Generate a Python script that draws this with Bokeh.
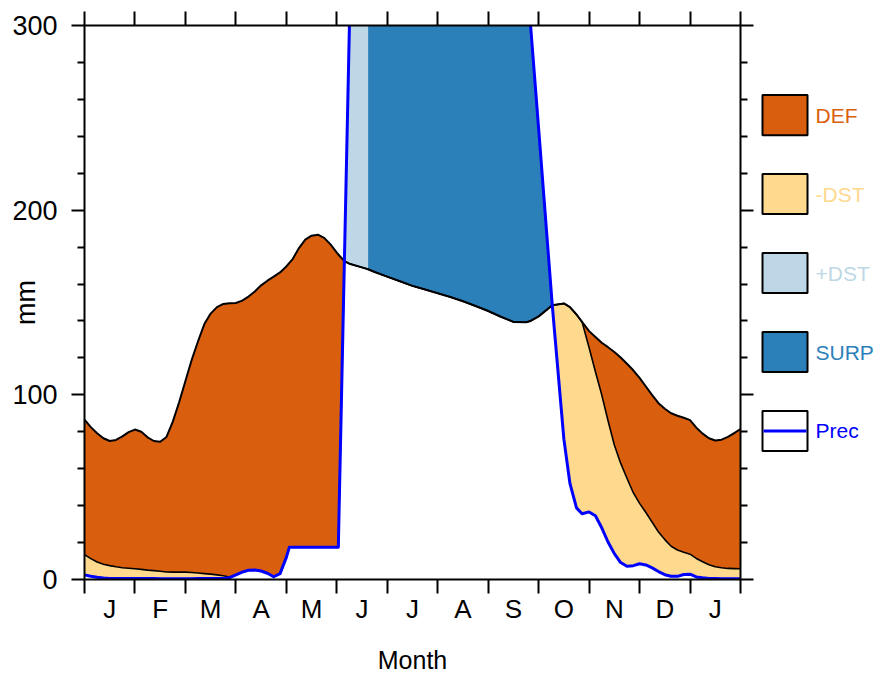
import numpy as np
from bokeh.plotting import figure
from bokeh.models import LinearAxis, FixedTicker, Range1d
from bokeh.layouts import row
from bokeh.embed import file_html
from bokeh.resources import INLINE
from bokeh.core.properties import value

# ---------------- data ----------------
month = [0.0, 0.125, 0.25, 0.375, 0.5, 0.625, 0.75, 0.875, 1.0, 1.125, 1.25, 1.375,
         1.5, 1.625, 1.75, 1.875, 2.0, 2.125, 2.25, 2.375, 2.5, 2.625, 2.75, 2.875, 3.0,
         3.125, 3.25, 3.375, 3.5, 3.625, 3.75, 3.875, 4.0, 4.06, 4.125, 4.25, 4.375,
         4.5, 4.625, 4.75, 4.875, 5.0, 5.03, 5.15, 5.25,
         5.5, 5.62, 5.75, 6.0, 6.25, 6.5, 6.75, 7.0, 7.25, 7.5, 7.75, 8.0, 8.25, 8.5,
         8.75, 8.84, 9.0,
         9.27, 9.5, 9.62, 9.75, 9.86,
         10.0, 10.125, 10.25, 10.375, 10.5, 10.625, 10.75, 10.875, 11.0, 11.125, 11.25,
         11.375, 11.5, 11.625, 11.75, 11.875, 12.0, 12.125, 12.25, 12.375, 12.5, 12.625,
         12.75, 12.875, 13.0]

# potential evapotranspiration (mm)
pet = [86.6, 82.5, 79.2, 76.5, 75.0, 75.6, 77.5, 79.8, 81.2, 80.0, 77.0, 75.0,
       74.6, 77.2, 85.5, 96.0, 107.5, 119.0, 129.0, 138.3, 144.0, 147.5, 149.2, 149.6, 149.7,
       151.0, 153.2, 156.0, 159.3, 161.8, 164.0, 166.3, 169.5, 171.5, 173.5, 179.5, 184.0,
       186.2, 186.7, 185.0, 181.5, 177.0, 176.0, 172.4, 171.0,
       169.0, 168.0, 166.5, 164.0, 161.5, 159.0, 157.0, 155.0, 153.0, 150.7, 148.1, 145.4, 142.3, 139.5,
       139.3, 140.0, 142.5,
       148.5, 149.5, 147.5, 143.5, 139.5,
       134.5, 131.3, 128.2, 125.8, 123.2, 120.2, 116.8, 113.3, 109.2, 104.5, 99.8,
       95.5, 92.5, 90.0, 88.7, 87.6, 86.3, 82.2, 79.0, 76.5, 75.3, 75.7,
       77.2, 79.3, 81.5]

# precipitation (mm); values above 300 run off the top of the chart
prec = [2.5, 1.8, 1.2, 0.8, 0.6, 0.5, 0.5, 0.5, 0.6, 0.6, 0.6, 0.5,
        0.4, 0.4, 0.4, 0.4, 0.4, 0.4, 0.5, 0.5, 0.5, 0.5, 0.5, 1.0, 2.5,
        4.0, 5.0, 5.1, 4.6, 3.4, 1.5, 3.2, 12.0, 17.5, 17.5, 17.5, 17.5,
        17.5, 17.5, 17.5, 17.5, 17.5, 17.5, 172.4, 300.0,
        620.0, 640.0, 650.0, 660.0, 660.0, 650.0, 640.0, 630.0, 610.0, 590.0, 560.0, 530.0, 480.0, 420.0,
        332.0, 300.0, 244.0,
        148.5, 76.0, 52.0, 38.8, 35.6,
        36.6, 34.5, 28.0, 20.3, 14.0, 9.2, 7.2, 7.5, 8.5, 7.9, 6.3,
        4.3, 2.6, 1.8, 1.7, 2.7, 2.9, 1.4, 0.9, 0.6, 0.5, 0.4,
        0.4, 0.4, 0.4]

# actual evapotranspiration (mm)
aet = [13.5, 11.3, 9.5, 8.3, 7.5, 6.9, 6.4, 6.1, 5.8, 5.5, 5.1, 4.8,
       4.5, 4.1, 4.0, 4.0, 4.0, 3.8, 3.5, 3.2, 2.9, 2.5, 2.0, 1.4, 2.5,
       4.0, 5.0, 5.1, 4.6, 3.4, 1.5, 3.2, 12.0, 17.5, 17.5, 17.5, 17.5,
       17.5, 17.5, 17.5, 17.5, 17.5, 17.5, 172.4, 171.0,
       169.0, 168.0, 166.5, 164.0, 161.5, 159.0, 157.0, 155.0, 153.0, 150.7, 148.1, 145.4, 142.3, 139.5,
       139.3, 140.0, 142.5,
       148.5, 149.5, 147.5, 143.5, 139.5,
       125.5, 112.5, 100.0, 86.0, 72.8, 63.0, 54.8, 47.0, 41.2, 36.3, 31.0,
       25.7, 21.6, 18.0, 16.0, 14.8, 13.7, 11.4, 9.6, 8.0, 6.9, 6.4,
       6.0, 5.9, 5.8]

recharge_end = 5.62          # month where soil recharge (+DST) gives way to surplus
month_labels = ["J", "F", "M", "A", "M", "J", "J", "A", "S", "O", "N", "D", "J"]
y_major = [0, 100, 200, 300]
y_minor = [20, 40, 60, 80, 120, 140, 160, 180, 220, 240, 260, 280]
legend_names = ["DEF", "-DST", "+DST", "SURP", "Prec"]

# ---------------- style ----------------
C_DEF = "#d95f0e"
C_UTIL = "#fed98e"
C_RECH = "#bdd7e7"
C_SURP = "#2c80ba"
C_PREC = "#0000ff"
FONT = "Liberation Sans"

t = np.array(month)
E = np.array(pet)
P = np.array(prec)
A = np.array(aet)

p = figure(width=760, height=677, x_range=Range1d(0, 13), y_range=Range1d(0, 300),
           output_backend="svg", toolbar_location=None,
           min_border_left=84, min_border_right=20, min_border_top=25, min_border_bottom=98)
p.outline_line_color = None
p.grid.visible = False
p.background_fill_color = "white"
p.border_fill_color = "white"

# deficit: between actual ET and potential ET
p.varea(x=t, y1=A, y2=E, fill_color=C_DEF)
# soil moisture utilisation: between precipitation and actual ET
p.varea(x=t, y1=P, y2=np.maximum(A, P), fill_color=C_UTIL)
# recharge and surplus: between PET and precipitation
top = np.maximum(E, P)
r = t <= recharge_end
s = t >= recharge_end
p.varea(x=t[r], y1=E[r], y2=top[r], fill_color=C_RECH)
p.varea(x=t[s], y1=E[s], y2=top[s], fill_color=C_SURP)

p.line(t, E, line_color="black", line_width=2, line_join="round")
p.line(t, A, line_color="black", line_width=1.6, line_join="round")
p.line(t, P, line_color=C_PREC, line_width=3, line_join="round")

def style_axis(ax):
    ax.axis_line_width = 2
    ax.axis_line_color = "black"
    ax.major_tick_line_width = 2
    ax.minor_tick_line_width = 2
    ax.major_tick_line_color = "black"
    ax.minor_tick_line_color = "black"
    ax.major_tick_in = 0
    ax.minor_tick_in = 0
    ax.major_label_text_font = FONT
    ax.major_label_text_color = "black"
    ax.axis_label_text_font = FONT
    ax.axis_label_text_font_style = "normal"
    ax.axis_label_text_color = "black"

# bottom axis: month letters at mid-month, ticks at month boundaries
xb = p.xaxis[0]
style_axis(xb)
xb.ticker = FixedTicker(ticks=[i + 0.5 for i in range(len(month_labels))],
                        minor_ticks=list(range(len(month_labels) + 1)))
xb.major_label_overrides = {i + 0.5: m for i, m in enumerate(month_labels)}
xb.major_tick_out = 0
xb.minor_tick_out = 14
xb.major_label_standoff = 0
xb.major_label_text_font_size = "26px"
xb.axis_label = "Month"
xb.axis_label_text_font_size = "25px"
xb.axis_label_standoff = 19

# left axis
yl = p.yaxis[0]
style_axis(yl)
yl.ticker = FixedTicker(ticks=y_major, minor_ticks=y_minor)
yl.major_tick_out = 13
yl.minor_tick_out = 7
yl.major_label_standoff = 14
yl.major_label_text_font_size = "27px"
yl.axis_label = "mm"
yl.axis_label_text_font_size = "27px"
yl.axis_label_standoff = -32

# top axis (ticks only)
xt = LinearAxis(ticker=FixedTicker(ticks=list(range(len(month_labels) + 1))))
style_axis(xt)
xt.major_tick_out = 14
xt.minor_tick_out = 0
xt.major_label_text_font_size = "0px"
xt.major_label_text_color = None
xt.major_label_standoff = 0
p.add_layout(xt, "above")

# right axis (ticks only)
yr = LinearAxis(ticker=FixedTicker(ticks=y_major, minor_ticks=y_minor))
style_axis(yr)
yr.major_tick_out = 13
yr.minor_tick_out = 7
yr.major_label_text_font_size = "0px"
yr.major_label_text_color = None
yr.major_label_standoff = 0
p.add_layout(yr, "right")

# ---------------- legend panel ----------------
leg = figure(width=114, height=677, x_range=Range1d(0, 114), y_range=Range1d(677, 0),
             output_backend="svg", toolbar_location=None,
             x_axis_type=None, y_axis_type=None, min_border=0)
leg.outline_line_color = None
leg.grid.visible = False
leg.background_fill_color = "white"
leg.border_fill_color = "white"

cy = [109.5 + 96.5 * i for i in range(len(legend_names))]
box_fill = [C_DEF, C_UTIL, C_RECH, C_SURP, "white"]
text_col = [C_DEF, C_UTIL, C_RECH, C_SURP, C_PREC]
leg.rect(x=24.5, y=cy, width=45, height=49, fill_color=box_fill,
         line_color="black", line_width=2)
leg.segment(x0=3, x1=46, y0=cy[-1], y1=cy[-1], line_color=C_PREC, line_width=3)
leg.text(x=55, y=cy, text=legend_names, text_color=text_col,
         text_baseline="middle", text_align="left",
         text_font=value(FONT), text_font_size="21px")

layout = row(p, leg)
open("out.html", "w").write(file_html(layout, INLINE))
